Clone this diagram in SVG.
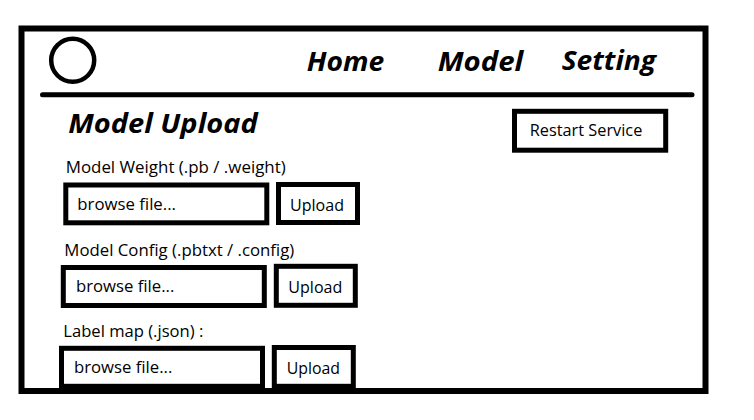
<svg xmlns="http://www.w3.org/2000/svg" width="754" height="420" viewBox="0 0 754 420">
<style>
.box{fill:#fff;stroke:#000;stroke-width:5}
.t{font-family:"Open Sans","Noto Sans","DejaVu Sans",sans-serif;font-size:17px;fill:#000}
.h{font-family:"Open Sans","Noto Sans","DejaVu Sans",sans-serif;font-size:26.5px;font-weight:bold;font-style:italic;fill:#000}
</style>
<rect x="0" y="0" width="754" height="420" fill="#fff"/>
<g id="frame">
<rect x="21.5" y="28.5" width="684" height="362.5" fill="none" stroke="#000" stroke-width="6"/>
</g>
<g id="header">
<circle cx="72.7" cy="60.3" r="21.5" fill="none" stroke="#000" stroke-width="4.5"/>
<line x1="42.5" y1="94.7" x2="692" y2="94.7" stroke="#000" stroke-width="5" stroke-linecap="round"/>
<text class="h" x="306.7" y="71" textLength="77.5" lengthAdjust="spacingAndGlyphs">Home</text>
<text class="h" x="437.7" y="71" textLength="85.6" lengthAdjust="spacingAndGlyphs">Model</text>
<text class="h" x="561.7" y="69.5" textLength="94.3" lengthAdjust="spacingAndGlyphs">Setting</text>
</g>
<g id="title">
<text class="h" x="68.3" y="133.3" textLength="189.4" lengthAdjust="spacingAndGlyphs">Model Upload</text>
</g>
<g id="restart">
<rect class="box" x="514.5" y="111.3" width="151.2" height="38.9"/>
<text class="t" x="529.7" y="136" textLength="112.6" lengthAdjust="spacingAndGlyphs">Restart Service</text>
</g>
<g id="weight">
<text class="t" x="65.7" y="173.3" textLength="220" lengthAdjust="spacingAndGlyphs">Model Weight (.pb / .weight)</text>
<rect class="box" x="65.8" y="185" width="201" height="37.8"/>
<text class="t" x="77.3" y="210" textLength="98.7" lengthAdjust="spacingAndGlyphs">browse file...</text>
<rect class="box" x="278.5" y="184.5" width="79" height="38"/>
<text class="t" x="290" y="211" textLength="54" lengthAdjust="spacingAndGlyphs">Upload</text>
</g>
<g id="config">
<text class="t" x="64.3" y="256" textLength="230" lengthAdjust="spacingAndGlyphs">Model Config (.pbtxt / .config)</text>
<rect class="box" x="63.3" y="267.5" width="201" height="38"/>
<text class="t" x="76" y="291.7" textLength="98.3" lengthAdjust="spacingAndGlyphs">browse file...</text>
<rect class="box" x="276.3" y="266.3" width="79" height="39"/>
<text class="t" x="288.3" y="292.7" textLength="54" lengthAdjust="spacingAndGlyphs">Upload</text>
</g>
<g id="labelmap">
<text class="t" x="63.3" y="337.3" textLength="140" lengthAdjust="spacingAndGlyphs">Label map (.json) :</text>
<rect class="box" x="61.5" y="348.3" width="201" height="38"/>
<text class="t" x="74" y="372.7" textLength="98.3" lengthAdjust="spacingAndGlyphs">browse file...</text>
<rect class="box" x="274.3" y="347.5" width="79" height="38.8"/>
<text class="t" x="286.7" y="374" textLength="53.3" lengthAdjust="spacingAndGlyphs">Upload</text>
</g>
<g id="connectors"/>
</svg>
